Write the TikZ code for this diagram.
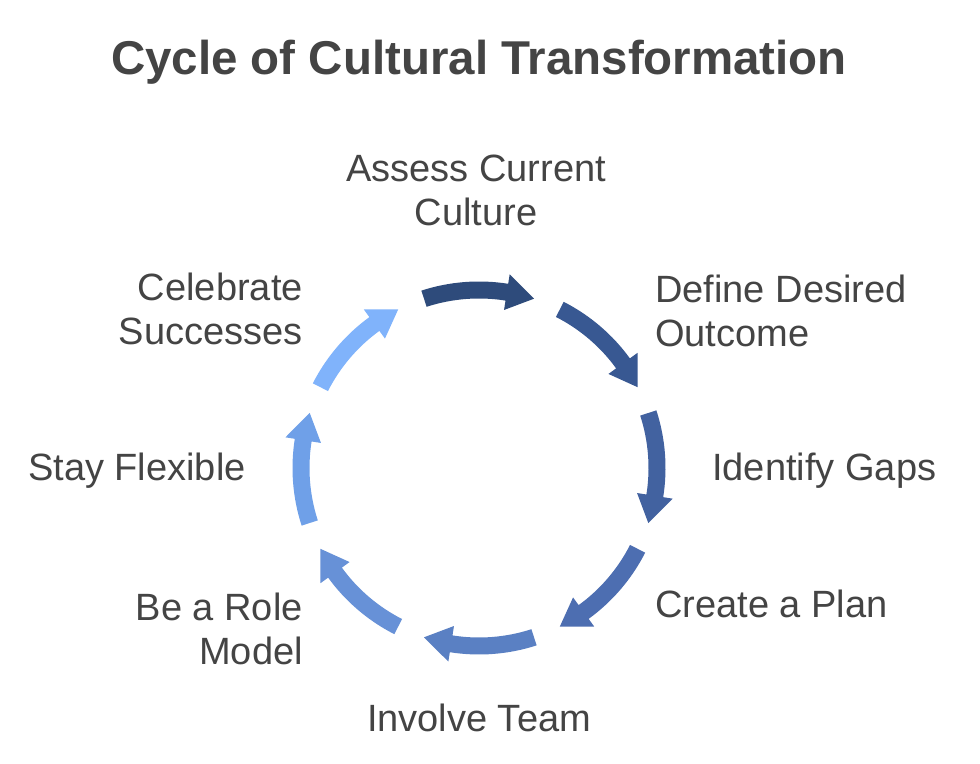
\documentclass[tikz,border=0pt]{standalone}
\usepackage{fontspec}
\setmainfont{Liberation Sans}
\usetikzlibrary{calc}
\definecolor{txt}{HTML}{444444}
\definecolor{a0}{HTML}{2E4B7B}
\definecolor{a1}{HTML}{385892}
\definecolor{a2}{HTML}{4262A0}
\definecolor{a3}{HTML}{4D6EB1}
\definecolor{a4}{HTML}{5A80C3}
\definecolor{a5}{HTML}{6791D7}
\definecolor{a6}{HTML}{6FA0E8}
\definecolor{a7}{HTML}{80B3FB}
\begin{document}
\begin{tikzpicture}[x=0.75pt,y=0.75pt,
  lbl/.style={inner sep=0pt,text=txt,font=\fontsize{28.5}{32.5}\selectfont},
  ttl/.style={inner sep=0pt,text=txt,font=\fontsize{35.6}{40}\selectfont\bfseries}]
\useasboundingbox[fill=white] (0,0) rectangle (980,763);
\coordinate (C) at (479,295);
\foreach \c/\col in {90/a0,45/a1,0/a2,-45/a3,-90/a4,-135/a5,-180/a6,-225/a7}{
  \fill[\col] ($(C)+(\c+18:186.5)$) arc[start angle=\c+18, end angle=\c-9, radius=186.5]
    -- ($(C)+(\c-9:196)$) -- ($(C)+(\c-18:178)$) -- ($(C)+(\c-9:160)$)
    -- ($(C)+(\c-9:169.5)$) arc[start angle=\c-9, end angle=\c+18, radius=169.5] -- cycle;
}
\node[ttl,anchor=north] (title) at (479,723) {Cycle of Cultural Transformation};
\node[lbl,anchor=north,align=center] (assess) at (476,608) {Assess Current\\Culture};
\node[lbl,anchor=north west,align=left] (define) at (655,488) {Define Desired\\Outcome};
\node[lbl,anchor=north west] (gaps) at (712,310) {Identify Gaps};
\node[lbl,anchor=north west] (plan) at (655,173) {Create a Plan};
\node[lbl,anchor=north] (team) at (479,59) {Involve Team};
\node[lbl,anchor=north east,align=right] (role) at (303,170) {Be a Role\\Model};
\node[lbl,anchor=north east] (flex) at (246,310) {Stay Flexible};
\node[lbl,anchor=north east,align=right] (celebrate) at (303,490) {Celebrate\\Successes};
\end{tikzpicture}
\end{document}
